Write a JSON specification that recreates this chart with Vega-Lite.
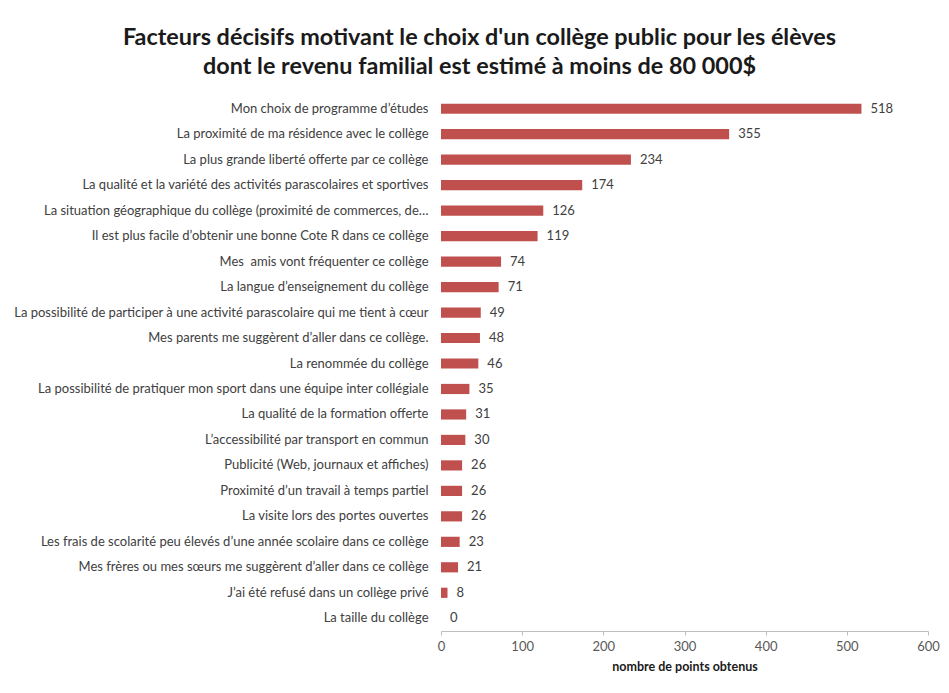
{
  "$schema": "https://vega.github.io/schema/vega-lite/v6.json",
  "autosize": "none",
  "width": 487,
  "height": 535,
  "padding": {"left": 441, "top": 96, "right": 21, "bottom": 62},
  "background": "white",
  "config": {"view": {"stroke": null}, "font": "Lato"},
  "title": {
    "text": ["Facteurs décisifs motivant le choix d'un collège public pour les élèves", "dont le revenu familial est estimé à moins de 80 000$"],
    "fontSize": 23.4,
    "fontWeight": "bold",
    "font": "Lato",
    "color": "#1a1a1a",
    "lineHeight": 29,
    "anchor": "middle",
    "frame": "group",
    "dx": -205,
    "offset": 17
  },
  "data": {
    "values": [
      {"facteur": "Mon choix de programme d’études", "points": 518},
      {"facteur": "La proximité de ma résidence avec le collège", "points": 355},
      {"facteur": "La plus grande liberté offerte par ce collège", "points": 234},
      {"facteur": "La qualité et la variété des activités parascolaires et sportives", "points": 174},
      {"facteur": "La situation géographique du collège (proximité de commerces, de…", "points": 126},
      {"facteur": "Il est plus facile d’obtenir une bonne Cote R dans ce collège", "points": 119},
      {"facteur": "Mes\u00a0 amis vont fréquenter ce collège", "points": 74},
      {"facteur": "La langue d’enseignement du collège", "points": 71},
      {"facteur": "La possibilité de participer à une activité parascolaire qui me tient à cœur", "points": 49},
      {"facteur": "Mes parents me suggèrent d’aller dans ce collège.", "points": 48},
      {"facteur": "La renommée du collège", "points": 46},
      {"facteur": "La possibilité de pratiquer mon sport dans une équipe inter collégiale", "points": 35},
      {"facteur": "La qualité de la formation offerte", "points": 31},
      {"facteur": "L’accessibilité par transport en commun", "points": 30},
      {"facteur": "Publicité (Web, journaux et affiches)", "points": 26},
      {"facteur": "Proximité d’un travail à temps partiel", "points": 26},
      {"facteur": "La visite lors des portes ouvertes", "points": 26},
      {"facteur": "Les frais de scolarité peu élevés d’une année scolaire dans ce collège", "points": 23},
      {"facteur": "Mes frères ou mes sœurs me suggèrent d’aller dans ce collège", "points": 21},
      {"facteur": "J’ai été refusé dans un collège privé", "points": 8},
      {"facteur": "La taille du collège", "points": 0}
    ]
  },
  "encoding": {
    "y": {
      "field": "facteur",
      "type": "nominal",
      "sort": null,
      "scale": {"paddingInner": 0.6, "paddingOuter": 0.3},
      "axis": {
        "title": null,
        "domain": false,
        "ticks": false,
        "labelPadding": 13,
        "labelFontSize": 13,
        "labelColor": "#404040",
        "labelLimit": 0,
        "labelFont": "Lato"
      }
    },
    "x": {
      "field": "points",
      "type": "quantitative",
      "scale": {"domain": [0, 600], "nice": false},
      "axis": {
        "values": [0, 100, 200, 300, 400, 500, 600],
        "grid": false,
        "title": "nombre de points obtenus",
        "titleFontSize": 12.5,
        "titleFontWeight": "bold",
        "titleColor": "#1a1a1a",
        "titleFont": "Lato",
        "titlePadding": 7,
        "labelFontSize": 13,
        "labelColor": "#595959",
        "labelFont": "Lato",
        "labelPadding": 5,
        "domainColor": "#bfbfbf",
        "tickColor": "#bfbfbf",
        "tickSize": 4,
        "labelFlush": false
      }
    }
  },
  "layer": [
    {"mark": {"type": "bar", "color": "#c0504d"}},
    {
      "mark": {"type": "text", "align": "left", "dx": 9, "fontSize": 13, "color": "#404040", "font": "Lato"},
      "encoding": {"text": {"field": "points", "type": "quantitative"}}
    }
  ]
}
